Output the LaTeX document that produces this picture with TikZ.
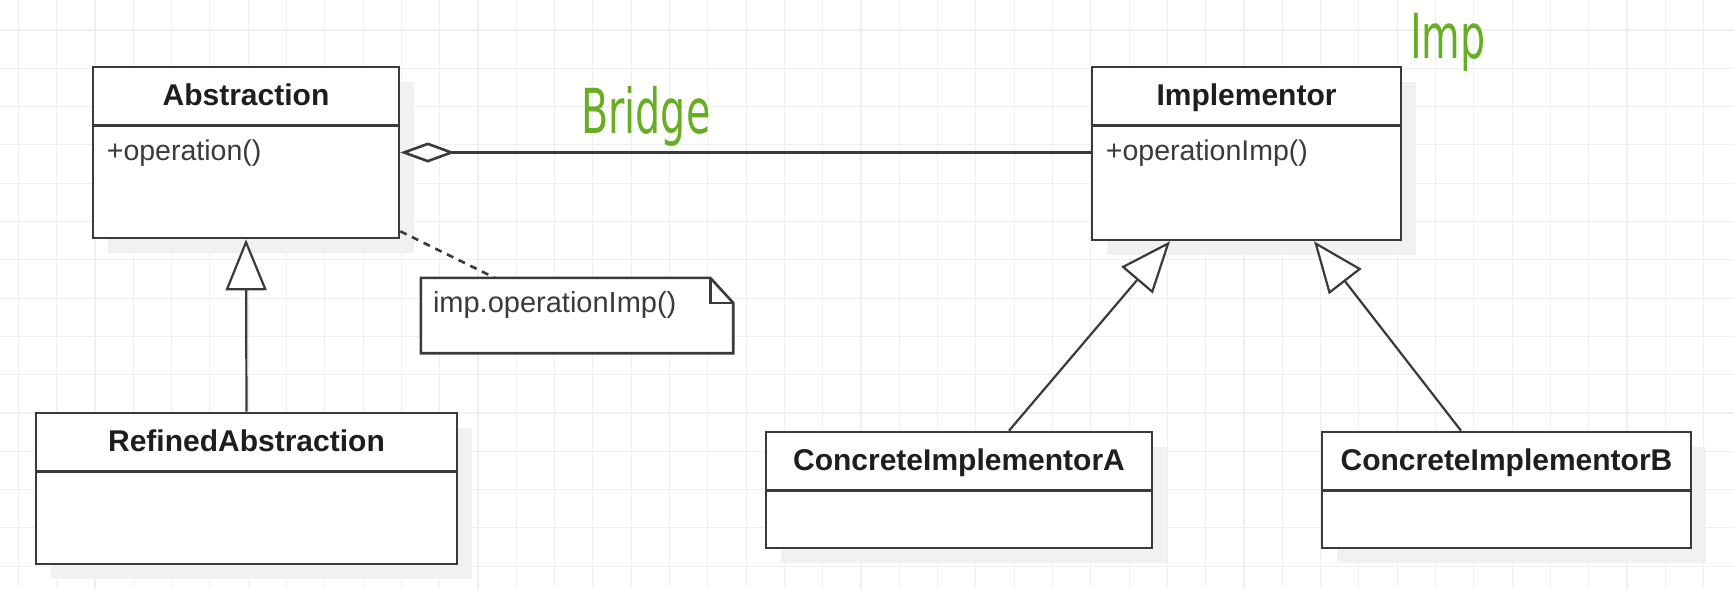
\documentclass[tikz,border=0pt]{standalone}
\usepackage{fontspec}
\setmainfont{Liberation Sans}
\newfontfamily\handfont[FakeStretch=0.64]{DejaVu Sans}
\usetikzlibrary{arrows.meta,shadows}
\definecolor{gridc}{HTML}{EFEFEF}
\definecolor{linec}{HTML}{3A3A3A}
\definecolor{textc}{HTML}{1E1E1E}
\definecolor{attrc}{HTML}{3A3A3A}
\definecolor{handc}{HTML}{68AE22}
\definecolor{shadowc}{HTML}{F1F1F1}
\tikzset{
  gridline/.style={draw=gridc, line width=1.1pt},
  umlclass/.style={draw=linec, line width=2.6pt, fill=white, rectangle, inner sep=0pt,
    drop shadow={shadow xshift=15pt, shadow yshift=-15pt, fill=shadowc, opacity=1}},
  divider/.style={draw=linec, line width=2.6pt},
  classtitle/.style={font=\bfseries\fontsize{30}{36}\selectfont, text=textc, anchor=base, inner sep=0pt},
  attr/.style={font=\fontsize{28.5}{34}\selectfont, text=attrc, anchor=base west, inner sep=0pt},
  gen/.style={draw=linec, line width=2.2pt, -{Triangle[open, length=51pt, width=41pt, fill=white]}},
  agg/.style={draw=linec, line width=2.6pt, {Diamond[open, length=55pt, width=20pt, fill=white]}-},
  dashline/.style={draw=linec, line width=2.6pt, dash pattern=on 7pt off 6pt},
  noteline/.style={draw=linec, line width=2.6pt, line join=miter},
  hand/.style={font=\handfont\fontsize{62}{70}\selectfont, text=handc, anchor=base west, inner sep=0pt}
}
\begin{document}
\begin{tikzpicture}[x=1pt,y=-1pt]
\useasboundingbox (0,0) rectangle (1734,589);
\fill[white] (0,0) rectangle (1734,589);
% grid
\foreach \i in {0,...,45} { \draw[gridline] ({18.4+38.3*\i},0) -- ({18.4+38.3*\i},589); }
\foreach \j in {0,...,15} { \draw[gridline] (0,{-8.3+38.3*\j}) -- (1734,{-8.3+38.3*\j}); }

% classes
\node[umlclass, minimum width=306pt, minimum height=171pt] (Abstraction) at (246,152.5) {};
\node[umlclass, minimum width=309pt, minimum height=173pt] (Implementor) at (1246.5,153.5) {};
\node[umlclass, minimum width=421pt, minimum height=151pt] (Refined) at (246.5,488.5) {};
\node[umlclass, minimum width=386pt, minimum height=116pt] (CIA) at (959,490) {};
\node[umlclass, minimum width=369pt, minimum height=116pt] (CIB) at (1506.5,490) {};

% dividers
\foreach \n in {Abstraction,Implementor,Refined,CIA,CIB} {
  \draw[divider] ([yshift=-60pt]\n.north west) -- ([yshift=-60pt]\n.north east);
}

% titles
\node[classtitle] (AbstractionT) at ([yshift=-40pt]Abstraction.north) {Abstraction};
\node[classtitle] (ImplementorT) at ([yshift=-40pt]Implementor.north) {Implementor};
\node[classtitle] (RefinedT) at ([yshift=-40pt]Refined.north) {RefinedAbstraction};
\node[classtitle] (CIAT) at ([yshift=-40pt]CIA.north) {ConcreteImplementorA};
\node[classtitle] (CIBT) at ([yshift=-40pt]CIB.north) {ConcreteImplementorB};

% attributes
\node[attr] (AbstractionOp) at ([xshift=15pt,yshift=-95pt]Abstraction.north west) {+operation()};
\node[attr] (ImplementorOp) at ([xshift=15pt,yshift=-95pt]Implementor.north west) {+operationImp()};

% note
\node[minimum width=312pt, minimum height=75pt, inner sep=0pt] (note) at (577,315.5) {};
\draw[noteline, fill=white] (note.north west) -- ([xshift=-23pt]note.north east)
  -- ([yshift=-25pt]note.north east) -- (note.south east) -- (note.south west) -- cycle;
\draw[noteline] ([xshift=-23pt]note.north east) -- ([xshift=-23pt,yshift=-25pt]note.north east)
  -- ([yshift=-25pt]note.north east);
\node[attr, font=\fontsize{29}{34}\selectfont] (noteText) at ([xshift=12pt,yshift=-35pt]note.north west) {imp.operationImp()};

% connectors
\draw[dashline] ([yshift=8pt]Abstraction.south east) -- ([xshift=74pt]note.north west);
\draw[agg] (Abstraction.east) -- (Abstraction.east -| Implementor.west);
\draw[gen] (Refined.north) -- (Abstraction.south);
\draw[gen] ([xshift=50pt]CIA.north) -- ([xshift=-76.5pt]Implementor.south);
\draw[gen] ([xshift=-45.5pt]CIB.north) -- ([xshift=67.5pt]Implementor.south);

% handwritten labels
\node[hand] (bridge) at (581,133) {Bridge};
\node[hand] (imp) at (1410,58) {Imp};
\end{tikzpicture}
\end{document}
